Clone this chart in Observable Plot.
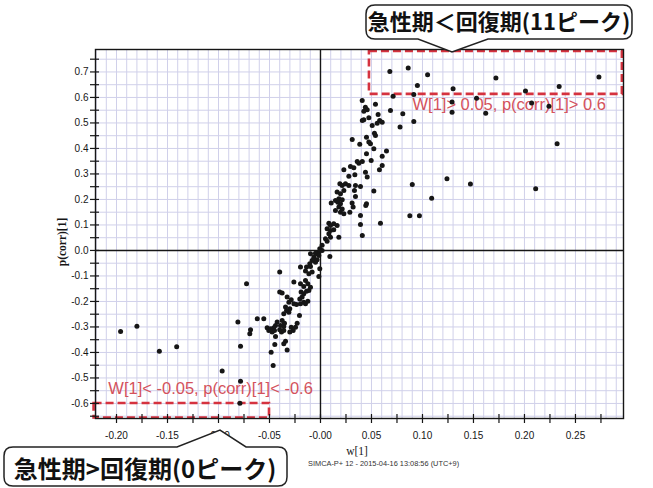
<!DOCTYPE html>
<html><head><meta charset="utf-8">
<script src="https://cdn.jsdelivr.net/npm/d3@7"></script>
<script src="https://cdn.jsdelivr.net/npm/@observablehq/plot@0.6"></script>
<style>html,body{margin:0;padding:0;background:#fff;} svg{display:block}</style>
</head><body><div id="chart"></div>
<script>
// ---- data (w[1], p(corr)[1]) ----
const wValues = [
  0.068,0.086,0.105,0.095,0.172,0.273,0.234,0.130,0.0915,0.201,0.0712,0.153,0.129,0.129,0.162,0.207,0.224,0.0686,0.0807,0.0915,0.078,0.232,0.0647,0.124,0.090,0.147,0.211,0.109,0.0876,0.097,
  0.0409,0.0539,0.044,0.0458,0.0425,0.0565,0.0474,0.0425,0.041,0.058,0.0556,0.0605,0.0507,0.0529,0.0539,0.0311,0.0451,0.0474,0.049,0.0385,0.0523,0.0451,0.0605,0.0497,0.041,0.0376,0.036,0.0605,0.0578,0.0294,0.0327,0.0229,0.0278,0.0337,0.0441,0.0458,
  0.019,0.0213,0.0245,0.0278,0.0343,0.0333,0.0392,0.0523,0.0163,0.0196,0.0229,0.0343,0.018,0.0213,0.0147,0.017,0.0196,0.0105,0.031,0.032,0.0451,0.018,0.0213,0.0147,0.0196,0.0229,0.0288,0.0392,0.0588,0.0082,0.0098,0.013,0.0163,0.0392,0.0065,0.0098,0.013,0.0082,0.018,0.041,0.0049,0.0065,0.0098,0.0016,-0.0007,0.0016,-0.0016,-0.0033,-0.0065,-0.0082,-0.0049,-0.0105,-0.0137,-0.0196,0.0092,0.0444,
  -0.0098,-0.0049,-0.0016,-0.0065,-0.0033,-0.0098,-0.0147,-0.0114,-0.0082,-0.0007,-0.0016,-0.040,-0.0725,-0.0147,-0.0124,-0.0164,-0.0196,-0.0098,-0.0261,-0.019,-0.0164,-0.0137,-0.0114,-0.040,-0.0376,-0.0327,-0.0287,-0.031,-0.0261,-0.0235,-0.0196,-0.0164,-0.0147,-0.0124,-0.018,-0.0203,-0.0343,-0.0301,-0.031,-0.0333,-0.0206,-0.036,-0.062,-0.0556,-0.081,-0.0425,-0.0376,-0.0353,-0.0392,-0.036,-0.0229,-0.0245,-0.0441,-0.0458,-0.0523,-0.0507,-0.0474,-0.0451,-0.049,-0.040,-0.0382,-0.036,-0.0287,-0.0268,-0.0301,-0.0686,-0.0693,-0.0441,-0.0343,-0.036,-0.0327,-0.0784,-0.0448,-0.0484,-0.0464,-0.0964,-0.0784,-0.079,-0.196,-0.180,-0.158,-0.141
];
const pcorrValues = [
  0.702,0.715,0.689,0.647,0.676,0.680,0.643,0.634,0.612,0.625,0.605,0.597,0.582,0.542,0.538,0.578,0.565,0.549,0.536,0.506,0.484,0.418,0.390,0.281,0.259,0.261,0.242,0.205,0.136,0.136,
  0.588,0.573,0.562,0.552,0.546,0.533,0.520,0.513,0.510,0.510,0.499,0.503,0.490,0.460,0.451,0.435,0.444,0.425,0.418,0.416,0.399,0.379,0.369,0.353,0.349,0.342,0.349,0.333,0.316,0.329,0.324,0.316,0.291,0.297,0.307,0.288,
  0.262,0.255,0.262,0.255,0.255,0.235,0.251,0.233,0.229,0.222,0.235,0.212,0.203,0.199,0.196,0.189,0.183,0.186,0.186,0.170,0.183,0.170,0.163,0.157,0.150,0.144,0.150,0.137,0.107,0.107,0.098,0.105,0.098,0.102,0.085,0.078,0.081,0.065,0.052,0.059,0.046,0.036,0.052,0.020,0.007,0.000,-0.007,-0.013,-0.026,-0.039,-0.046,-0.052,-0.065,-0.065,-0.024,0.176,
  -0.013,-0.011,-0.020,-0.033,-0.036,-0.063,-0.081,-0.091,-0.085,-0.072,-0.102,-0.085,-0.131,-0.118,-0.131,-0.141,-0.131,-0.144,-0.124,-0.163,-0.170,-0.160,-0.157,-0.163,-0.167,-0.183,-0.193,-0.203,-0.209,-0.212,-0.209,-0.203,-0.209,-0.199,-0.183,-0.190,-0.222,-0.229,-0.242,-0.235,-0.255,-0.248,-0.268,-0.268,-0.281,-0.281,-0.275,-0.285,-0.294,-0.298,-0.285,-0.301,-0.294,-0.303,-0.303,-0.314,-0.320,-0.314,-0.307,-0.311,-0.320,-0.314,-0.301,-0.314,-0.320,-0.311,-0.327,-0.337,-0.356,-0.366,-0.390,-0.376,-0.369,-0.399,-0.451,-0.473,-0.513,-0.599,-0.318,-0.297,-0.395,-0.378
];
const xTickValues = [-0.20,-0.15,-0.10,-0.05,0,0.05,0.10,0.15,0.20,0.25];
const yTickValues = [-0.6,-0.5,-0.4,-0.3,-0.2,-0.1,0,0.1,0.2,0.3,0.4,0.5,0.6,0.7];
const selectionLabels = ["W[1]> 0.05, p(corr)[1]> 0.6", "W[1]< -0.05, p(corr)[1]< -0.6"];
const selectionW1 = [0.048, -0.222];
const selectionW2 = [0.296, -0.05];
const selectionP1 = [0.612, -0.657];
const selectionP2 = [0.78, -0.6];
const labelW = [0.0902, -0.208];
const labelP = [0.573, -0.541];
const calloutTexts = ["急性期＜回復期(11ピーク)", "急性期>回復期(0ピーク)"];
const xTitle = "w[1]";
const yTitle = "p(corr)[1]";
const footer = "SIMCA-P+ 12 - 2015-04-16 13:08:56 (UTC+9)";

// ---- build ----
const W = 653, H = 488;
const mT = 49, mR = 30, mB = 70, mL = 95;
const innerW = W - mL - mR, innerH = H - mT - mB;
const points = wValues.map((w, i) => ({w, p: pcorrValues[i]}));
const boxes = selectionW1.map((_, i) => ({x1: selectionW1[i], x2: selectionW2[i], y1: selectionP1[i], y2: selectionP2[i]}));
const labels = selectionLabels.map((t, i) => ({t, w: labelW[i], p: labelP[i]}));
const gridX = d3.range(-22, 30).map(i => i / 100);
const gridY = d3.range(-13, 16).map(i => i / 20);
const tickMarksY = d3.range(-13, 16).map(i => i / 20);
const tickMarksX = d3.range(-8, 12).map(i => i * 0.025);
const grid = "#d0d0ea";
const ink = "#161616";
const red = "#d5323f";

const plot = Plot.plot({
  width: W, height: H,
  marginTop: mT, marginRight: mR, marginBottom: mB, marginLeft: mL,
  style: {background: "#fff", fontFamily: "'Liberation Sans Narrow','Liberation Sans',Arial,sans-serif", fontSize: "10px", color: ink},
  x: {domain: [-0.2206, 0.2971]},
  y: {domain: [-0.659, 0.788]},
  marks: [
    Plot.ruleX(gridX, {stroke: grid, strokeWidth: 1}),
    Plot.ruleY(gridY, {stroke: grid, strokeWidth: 1}),
    Plot.ruleX([0], {stroke: ink, strokeWidth: 1.4}),
    Plot.ruleY([0], {stroke: ink, strokeWidth: 1.4}),
    Plot.rect(boxes, {x1: "x1", x2: "x2", y1: "y1", y2: "y2", fill: "none", stroke: red, strokeWidth: 2.6, strokeDasharray: "8,4", clip: false}),
    Plot.text(labels, {x: "w", y: "p", text: "t", textAnchor: "start", fill: "#d4525c", fontSize: 16.5, fontFamily: "'Liberation Sans',Arial,sans-serif"}),
    Plot.dot(points, {x: "w", y: "p", r: 2.5, fill: ink, stroke: null}),
    Plot.frame({stroke: ink, strokeWidth: 1.4}),
    Plot.ruleY(tickMarksY, {insetLeft: -5, insetRight: innerW - 4, stroke: ink, strokeWidth: 1.2}),
    Plot.ruleX(tickMarksX, {insetTop: innerH - 4, insetBottom: -5, stroke: ink, strokeWidth: 1.2}),
    Plot.axisY(yTickValues, {tickSize: 0, tickPadding: 7, label: null, tickFormat: d => d.toFixed(1), fontSize: 10}),
    Plot.axisX(xTickValues, {tickSize: 0, tickPadding: 13, label: null, tickFormat: d => d === 0 ? "-0.00" : d.toFixed(2), fontSize: 10})
  ]
});
document.getElementById("chart").appendChild(plot);

// ---- annotations (titles, callouts) ----
const svg = d3.select(plot);
svg.append("text").attr("transform", "translate(66,242) rotate(-90)").attr("text-anchor", "middle")
  .attr("font-family", "'Liberation Serif','Times New Roman',serif").attr("font-size", 11.5).attr("font-weight", "bold").attr("fill", ink).text(yTitle);
svg.append("text").attr("x", 357).attr("y", 455).attr("text-anchor", "middle")
  .attr("font-family", "'Liberation Serif','Times New Roman',serif").attr("font-size", 11.5).attr("fill", ink).text(xTitle);
svg.append("text").attr("x", 308).attr("y", 466).attr("text-anchor", "start")
  .attr("font-family", "'Liberation Sans',Arial,sans-serif").attr("font-size", 7.4).attr("fill", "#333").text(footer);

function bubble(x0, y0, x1, y1, r, px0, px1, ax, ay, pointerBottom) {
  let d = `M${x0 + r},${y0}`;
  if (!pointerBottom) d += `H${px0}L${ax},${ay}L${px1},${y0}`;
  d += `H${x1 - r}Q${x1},${y0} ${x1},${y0 + r}V${y1 - r}Q${x1},${y1} ${x1 - r},${y1}`;
  if (pointerBottom) d += `H${px1}L${ax},${ay}L${px0},${y1}`;
  d += `H${x0 + r}Q${x0},${y1} ${x0},${y1 - r}V${y0 + r}Q${x0},${y0} ${x0 + r},${y0}Z`;
  return d;
}
svg.append("path").attr("d", bubble(366, 5, 632, 39, 9, 418, 488, 452, 52, true))
  .attr("fill", "#fff").attr("stroke", "#222").attr("stroke-width", 1.5);
svg.append("text").attr("x", 499).attr("y", 22).attr("dy", "0.36em").attr("text-anchor", "middle")
  .attr("font-family", "'Noto Sans CJK JP',sans-serif").attr("font-size", 22).attr("font-weight", "bold").attr("fill", "#111").text(calloutTexts[0]);
svg.append("path").attr("d", bubble(4, 447, 287, 486, 9, 177, 246, 220, 430, false))
  .attr("fill", "#fff").attr("stroke", "#222").attr("stroke-width", 1.5);
svg.append("text").attr("x", 145).attr("y", 469).attr("dy", "0.36em").attr("text-anchor", "middle")
  .attr("font-family", "'Noto Sans CJK JP',sans-serif").attr("font-size", 24).attr("font-weight", "bold").attr("fill", "#111").text(calloutTexts[1]);
</script></body></html>
